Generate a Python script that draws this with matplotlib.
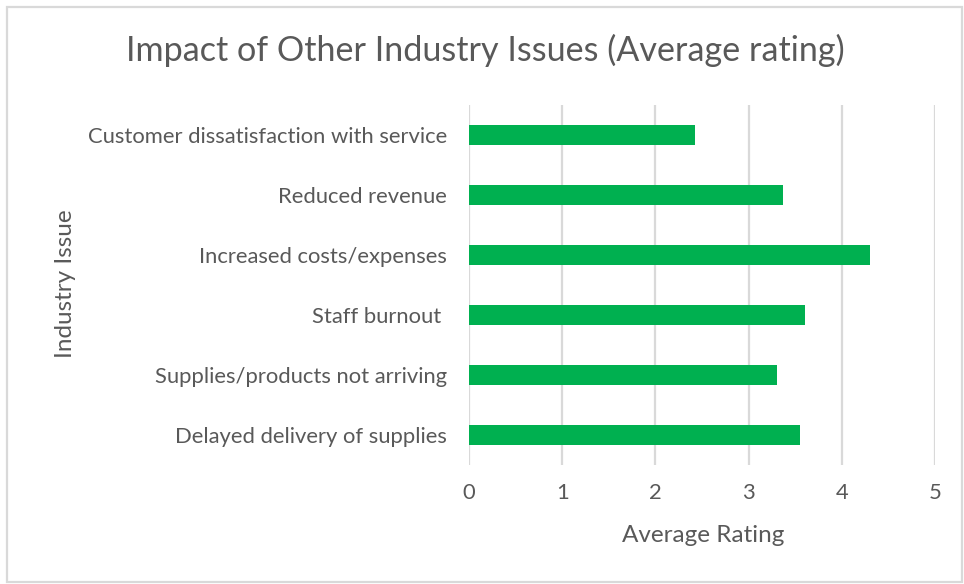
import matplotlib.pyplot as plt
from matplotlib.patches import Rectangle

# average ratings per industry issue (top to bottom)
issues = [
    'Customer dissatisfaction with service',
    'Reduced revenue',
    'Increased costs/expenses',
    'Staff burnout ',
    'Supplies/products not arriving',
    'Delayed delivery of supplies',
]
ratings = [2.42, 3.37, 4.30, 3.60, 3.30, 3.55]
xticks = [0, 1, 2, 3, 4, 5]

plt.rcParams['font.family'] = ['Lato', 'DejaVu Sans']
grey = '#595959'

fig = plt.figure(figsize=(9.64, 5.84), dpi=100)
ax = fig.add_axes([469 / 964, 1 - 465 / 584, (935 - 469) / 964, 360 / 584])

ypos = list(range(len(issues)))[::-1]
ax.barh(ypos, ratings, height=0.33, color='#00b050', zorder=3)

ax.set_xlim(0, 5)
ax.set_ylim(-0.5, len(issues) - 0.5)
ax.set_xticks(xticks)
ax.set_xticklabels([str(t) for t in xticks])
ax.set_yticks(ypos)
ax.set_yticklabels(issues)
ax.tick_params(axis='both', length=0, labelsize=15.8, colors=grey)
ax.tick_params(axis='x', pad=13)
ax.tick_params(axis='y', pad=16)
ax.grid(axis='x', color='#d9d9d9', linewidth=1.6, zorder=0)
for s in ax.spines.values():
    s.set_visible(False)

ax.set_xlabel('Average Rating', fontsize=17.5, color=grey)
ax.xaxis.set_label_coords(0.502, -0.166)
ax.set_ylabel('Industry Issue', fontsize=17.5, color=grey)
ax.yaxis.set_label_coords(-0.843, 0.505)
fig.text(485 / 964, 1 - 50 / 584, 'Impact of Other Industry Issues (Average rating)',
         ha='center', va='center', fontsize=24.6, color=grey)

# chart area frame
fig.patches.append(Rectangle((7 / 964, 2 / 584), 955 / 964, 575 / 584,
                             transform=fig.transFigure, fill=False,
                             edgecolor='#d9d9d9', linewidth=1.6))

fig.savefig('out.png', dpi=100, facecolor='white')
